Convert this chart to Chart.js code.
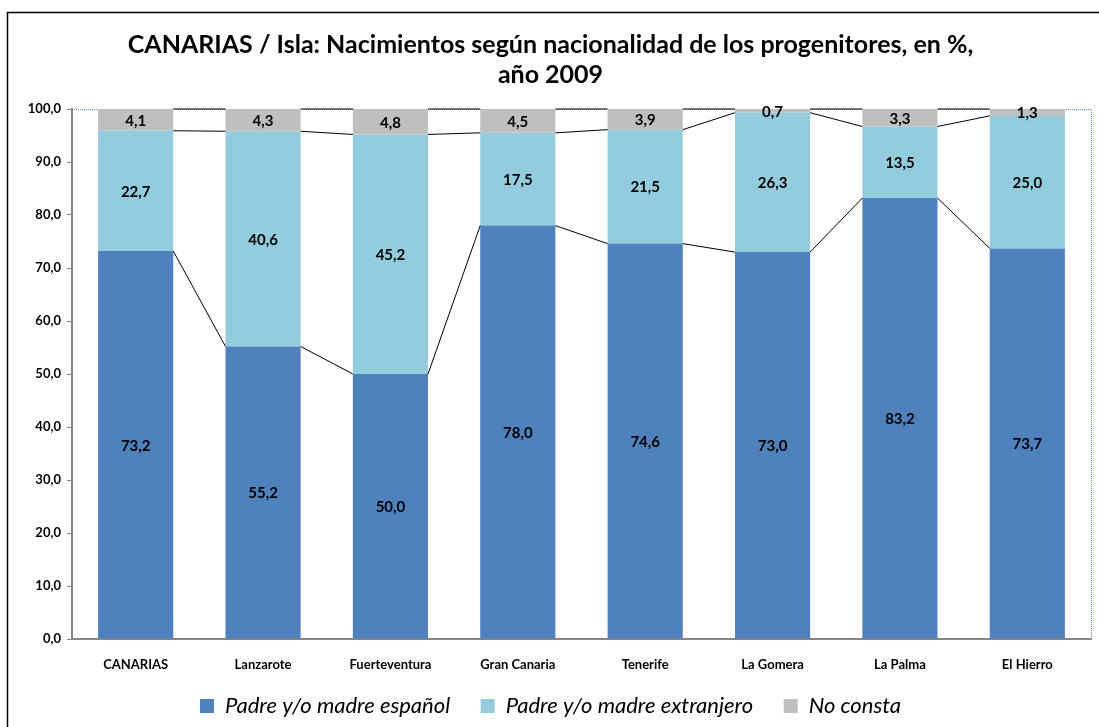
<!DOCTYPE html>
<html>
<head>
<meta charset="utf-8">
<script src="https://cdn.jsdelivr.net/npm/chart.js@4/dist/chart.umd.min.js"></script>
<style>
  html, body { margin: 0; padding: 0; background: #fff; }
</style>
</head>
<body>
<canvas id="myChart" width="1099" height="727"></canvas>
<script>
const islas = ["CANARIAS", "Lanzarote", "Fuerteventura", "Gran Canaria", "Tenerife", "La Gomera", "La Palma", "El Hierro"];
const espanol = [73.2, 55.2, 50.0, 78.0, 74.6, 73.0, 83.2, 73.7];
const extranjero = [22.7, 40.6, 45.2, 17.5, 21.5, 26.3, 13.5, 25.0];
const noConsta = [4.1, 4.3, 4.8, 4.5, 3.9, 0.7, 3.3, 1.3];
const yTicks = [0, 10, 20, 30, 40, 50, 60, 70, 80, 90, 100];

function coma(v) {
  return v.toFixed(1).replace(".", ",");
}

// borde del grafico (estilo Excel)
const borde = {
  id: "borde",
  beforeDraw(chart) {
    const ctx = chart.ctx;
    ctx.save();
    ctx.strokeStyle = "#000";
    ctx.lineWidth = 1.5;
    ctx.beginPath();
    ctx.moveTo(7.5, 800);
    ctx.lineTo(7.5, 12.5);
    ctx.lineTo(1200, 12.5);
    ctx.stroke();
    // contorno punteado del area de trazado
    const a = chart.chartArea;
    ctx.strokeStyle = "#5b8fd6";
    ctx.lineWidth = 1;
    ctx.setLineDash([1, 1]);
    ctx.beginPath();
    ctx.moveTo(a.left, a.top + 0.5);
    ctx.lineTo(a.right + 0.5, a.top + 0.5);
    ctx.lineTo(a.right + 0.5, a.bottom);
    ctx.stroke();
    ctx.restore();
  }
};

// lineas de serie + etiquetas
const lineasSerie = {
  id: "lineasSerie",
  afterDatasetsDraw(chart) {
    const ctx = chart.ctx;
    const top = chart.chartArea.top;
    ctx.save();
    ctx.strokeStyle = "#000";
    ctx.lineWidth = 1;
    chart.data.datasets.forEach(function (ds, i) {
      const bars = chart.getDatasetMeta(i).data;
      for (let j = 0; j < bars.length - 1; j++) {
        const a = bars[j], b = bars[j + 1];
        ctx.beginPath();
        ctx.moveTo(a.x + a.width / 2, Math.max(a.y, top));
        ctx.lineTo(b.x - b.width / 2, Math.max(b.y, top));
        ctx.stroke();
      }
    });
    ctx.fillStyle = "#000";
    ctx.font = "bold 15px Lato";
    ctx.textAlign = "center";
    ctx.textBaseline = "middle";
    chart.data.datasets.forEach(function (ds, i) {
      const bars = chart.getDatasetMeta(i).data;
      bars.forEach(function (bar, j) {
        const y1 = Math.max(bar.y, top);
        ctx.fillText(coma(ds.data[j]), bar.x, (y1 + bar.base) / 2 + 1);
      });
    });
    ctx.restore();
  }
};

const ctx = document.getElementById("myChart");
const myChart = new Chart(ctx, {
  type: "bar",
  data: {
    labels: islas,
    datasets: [
      { label: "Padre y/o madre español", data: espanol, backgroundColor: "#4F81BD" },
      { label: "Padre y/o madre extranjero", data: extranjero, backgroundColor: "#93CDDD" },
      { label: "No consta", data: noConsta, backgroundColor: "#BFBFBF" }
    ]
  },
  options: {
    responsive: false,
    animation: false,
    categoryPercentage: 1,
    barPercentage: 0.59,
    layout: { padding: { left: 10, right: 8, top: 0, bottom: 0 } },
    scales: {
      x: {
        stacked: true,
        grid: { display: false },
        border: { display: true, color: "#868686", width: 2 },
        ticks: { color: "#000", font: { family: "Lato", size: 13, weight: "bold" }, padding: 10, maxRotation: 0 },
        afterFit: function (scale) { scale.height = 46; }
      },
      y: {
        stacked: true,
        min: 0,
        max: 100,
        afterBuildTicks: function (scale) {
          scale.ticks = yTicks.map(function (v) { return { value: v }; });
        },
        grid: { drawOnChartArea: false, drawTicks: true, tickLength: 5, color: "#868686" },
        border: { display: true, color: "#868686", width: 2 },
        ticks: {
          color: "#000",
          font: { family: "Lato", size: 13, weight: "bold" },
          padding: 6,
          callback: function (v) { return coma(v); }
        },
        afterFit: function (scale) { scale.width = 62; }
      }
    },
    plugins: {
      title: {
        display: true,
        text: ["CANARIAS / Isla: Nacimientos según nacionalidad de los progenitores, en %,", "año 2009"],
        color: "#000",
        font: { family: "Lato", size: 25, weight: "bold", lineHeight: 1.2 },
        padding: { top: 30, bottom: 19 }
      },
      legend: {
        position: "bottom",
        labels: {
          color: "#000",
          font: { family: "Lato", size: 22, style: "italic" },
          boxWidth: 14,
          boxHeight: 14,
          padding: 10,
          generateLabels: function (chart) {
            const items = Chart.defaults.plugins.legend.labels.generateLabels(chart);
            items.forEach(function (item, i) {
              if (i < items.length - 1) item.text = item.text + "    ";
            });
            return items;
          }
        }
      },
      tooltip: { enabled: false }
    }
  },
  plugins: [borde, lineasSerie]
});
</script>
</body>
</html>
